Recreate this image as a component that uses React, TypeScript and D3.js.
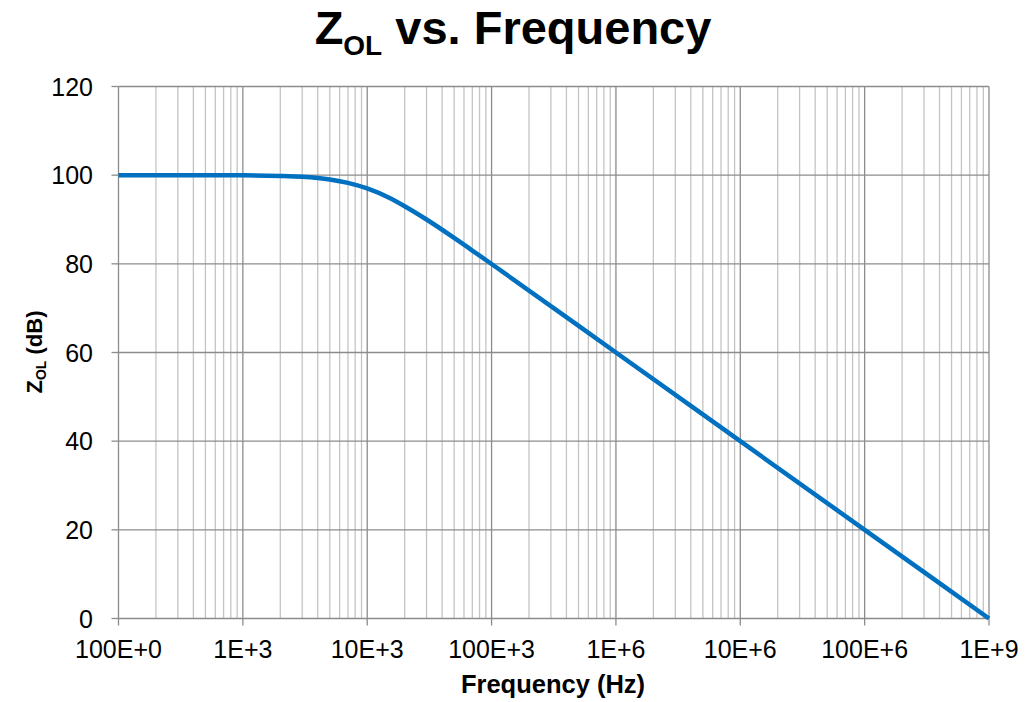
import React from "react";
import * as d3 from "d3";

const freqs = [100, 1000, 2000, 3000, 5000, 7000, 10000, 15000, 20000, 30000, 50000, 70000, 100000, 1e6, 1e7, 1e8, 1e9];
const zolDb = [100, 99.96, 99.83, 99.63, 99.03, 98.27, 97.0, 94.9, 93.0, 90.0, 85.85, 83.0, 79.96, 60.0, 40.0, 20.0, 0.0];
const xTicks = [1e2, 1e3, 1e4, 1e5, 1e6, 1e7, 1e8, 1e9];
const xTickLabels = ["100E+0", "1E+3", "10E+3", "100E+3", "1E+6", "10E+6", "100E+6", "1E+9"];
const yTicks = [0, 20, 40, 60, 80, 100, 120];

const W = 1025, H = 702;
const L = 118.5, R = 989, T = 86.5, B = 618.5;

export default function App() {
  const x = d3.scaleLog().domain([1e2, 1e9]).range([L, R]);
  const y = d3.scaleLinear().domain([0, 120]).range([B, T]);
  const minor: number[] = [];
  for (let e = 2; e < 9; e++) for (let m = 2; m <= 9; m++) minor.push(m * Math.pow(10, e));
  const pts = freqs.map((f, i) => [f, zolDb[i]] as [number, number]);
  const line = d3.line<[number, number]>().x(d => x(d[0])).y(d => y(d[1])).curve(d3.curveMonotoneX);
  const font = "Liberation Sans, Arial, sans-serif";
  return (
    <div style={{ position: "fixed", left: 0, top: 0 }}>
      <svg width={W} height={H} style={{ display: "block", background: "#fff" }} fontFamily={font}>
        {minor.map((f, i) => (
          <line key={"m" + i} x1={x(f)} x2={x(f)} y1={T} y2={B} stroke="#c4c4c4" strokeWidth={1.3} />
        ))}
        {yTicks.map((v, i) => (
          <line key={"h" + i} x1={L} x2={R} y1={y(v)} y2={y(v)} stroke="#8c8c8c" strokeWidth={1.3} />
        ))}
        {xTicks.map((f, i) => (
          <line key={"v" + i} x1={x(f)} x2={x(f)} y1={T} y2={B + 7} stroke="#8c8c8c" strokeWidth={1.3} />
        ))}
        {yTicks.map((v, i) => (
          <line key={"yt" + i} x1={L - 7} x2={L} y1={y(v)} y2={y(v)} stroke="#8c8c8c" strokeWidth={1.3} />
        ))}
        <path d={line(pts) || ""} fill="none" stroke="#0070C0" strokeWidth={4.5} strokeLinejoin="round" />
        {yTicks.map((v, i) => (
          <text key={"yl" + i} x={93} y={y(v) + 9} textAnchor="end" fontSize={25} fill="#000">{v}</text>
        ))}
        {xTicks.map((f, i) => (
          <text key={"xl" + i} x={x(f)} y={658} textAnchor="middle" fontSize={25} fill="#000">{xTickLabels[i]}</text>
        ))}
        <text x={553} y={693} textAnchor="middle" fontSize={25.5} fontWeight="bold">Frequency (Hz)</text>
        <text transform={`translate(42, 352) rotate(-90)`} textAnchor="middle" fontSize={22} fontWeight="bold">
          Z<tspan fontSize={14} dy={4}>OL</tspan><tspan dy={-4}> (dB)</tspan>
        </text>
        <text x={513} y={44} textAnchor="middle" fontSize={47} fontWeight="bold">
          Z<tspan fontSize={28} dy={11}>OL</tspan><tspan dy={-11}> vs. Frequency</tspan>
        </text>
      </svg>
    </div>
  );
}
